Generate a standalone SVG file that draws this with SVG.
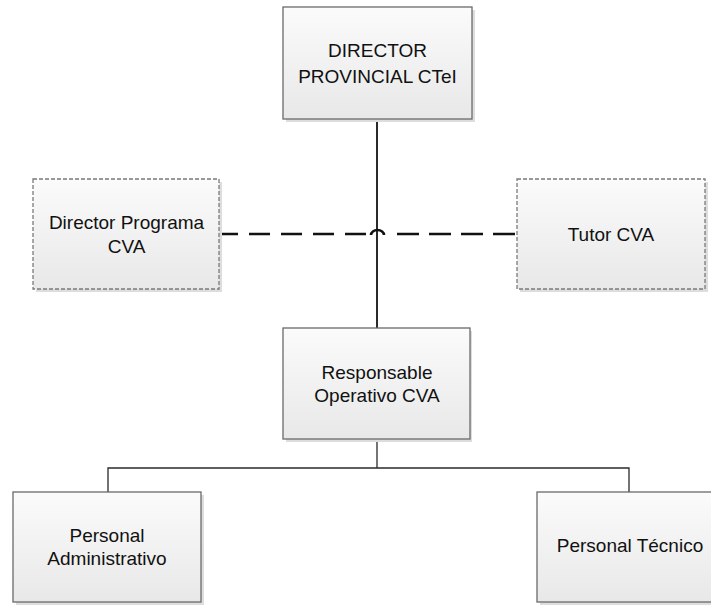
<svg xmlns="http://www.w3.org/2000/svg" width="711" height="607" viewBox="0 0 711 607">
<defs>
<linearGradient id="g" x1="0" y1="0" x2="0" y2="1">
<stop offset="0" stop-color="#fbfbfb"/>
<stop offset="1" stop-color="#e8e8e8"/>
</linearGradient>
<style>
.shadow{fill:#dddddd;stroke:none}
.box{fill:url(#g);stroke:#6a6a6a;stroke-width:1.3}
.dbox{fill:url(#g);stroke:#7a7a7a;stroke-width:1.3;stroke-dasharray:4 2}
.t{font-family:"Liberation Sans",Arial,sans-serif;font-size:19px;fill:#111;text-anchor:middle}
.solid{fill:none;stroke:#2a2a2a;stroke-width:2}
.thin{fill:none;stroke:#2a2a2a;stroke-width:1.3}
.dash{fill:none;stroke:#111;stroke-width:2.6}
</style>
</defs>
<rect width="711" height="607" fill="#ffffff"/>
<g id="connectors">
<line class="solid" x1="377" y1="119" x2="377" y2="328"/>
<polyline class="thin" points="377,439 377,468"/>
<polyline class="thin" points="108,492 108,468 629,468 629,492"/>
<path class="dash" d="M219,234H238M249,234H270M281,234H302M313,234H334M345,234H366M397,234H419M429,234H451M461,234H483M493,234H515"/>
<path class="dash" d="M371,235 A6.5,5 0 0 1 384,235"/>
</g>
<g id="director-provincial">
<rect class="shadow" x="286" y="10" width="189" height="112"/>
<rect class="box" x="283" y="7" width="189" height="112"/>
<text class="t" x="377.5" y="57">DIRECTOR</text>
<text class="t" x="377.5" y="83">PROVINCIAL CTeI</text>
</g>
<g id="director-programa">
<rect class="shadow" x="36" y="182" width="186" height="110"/>
<rect class="dbox" x="33" y="179" width="186" height="110"/>
<text class="t" x="126.5" y="229">Director Programa</text>
<text class="t" x="126.5" y="253">CVA</text>
</g>
<g id="tutor">
<rect class="shadow" x="520" y="182" width="188" height="110"/>
<rect class="dbox" x="517" y="179" width="188" height="110"/>
<text class="t" x="611" y="241">Tutor CVA</text>
</g>
<g id="responsable">
<rect class="shadow" x="286" y="331" width="186" height="111"/>
<rect class="box" x="283" y="328" width="187" height="111"/>
<text class="t" x="377" y="379">Responsable</text>
<text class="t" x="377" y="402">Operativo CVA</text>
</g>
<g id="personal-administrativo">
<rect class="shadow" x="16" y="495" width="188" height="110"/>
<rect class="box" x="13" y="492" width="188" height="110"/>
<text class="t" x="107" y="542">Personal</text>
<text class="t" x="107" y="565">Administrativo</text>
</g>
<g id="personal-tecnico">
<rect class="shadow" x="540" y="495" width="188" height="110"/>
<rect class="box" x="537" y="492" width="188" height="110"/>
<text class="t" x="630" y="552">Personal Técnico</text>
</g>
</svg>
